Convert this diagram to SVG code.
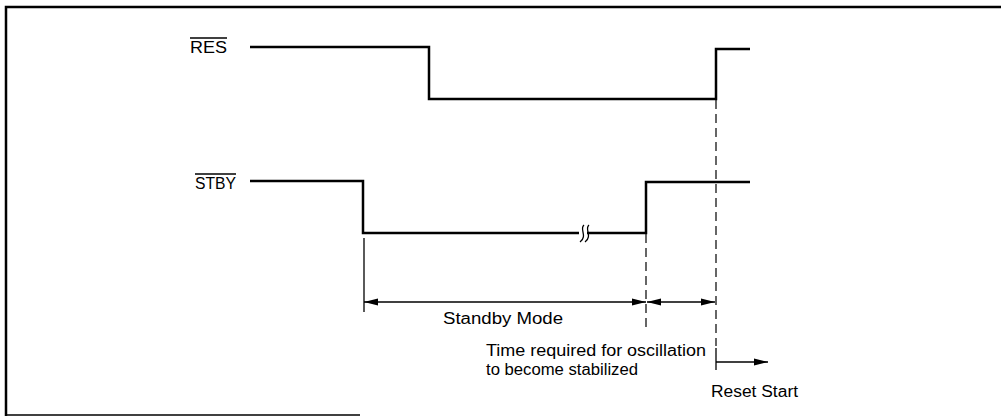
<svg xmlns="http://www.w3.org/2000/svg" width="1001" height="417" viewBox="0 0 1001 417">
<style>
.sig{fill:none;stroke:#000;stroke-width:2.5}
.thin{fill:none;stroke:#000;stroke-width:1.3}
.dash{fill:none;stroke:#000;stroke-width:1.2;stroke-dasharray:9 5}
.lbl{font-family:"Liberation Sans",Arial,sans-serif;font-size:16px;fill:#000}
</style>
<defs>
<marker id="ah" viewBox="0 0 14 8" refX="14" refY="4" markerWidth="14" markerHeight="8" markerUnits="userSpaceOnUse" orient="auto-start-reverse">
<path d="M0,0.5 L14,4 L0,7.5 Z" fill="#000"/>
</marker>
</defs>
<rect width="1001" height="417" fill="#fff"/>
<g id="frame">
<path d="M6,416 L6,7 L1001,7" class="sig" stroke-width="2"/>
<path d="M5,415 L360,415" class="thin" stroke-width="1.5"/>
</g>
<g id="res">
<text x="190" y="53" class="lbl" textLength="37" lengthAdjust="spacingAndGlyphs">RES</text>
<line x1="190" y1="38" x2="227" y2="38" class="thin" stroke-width="1"/>
<path d="M250,47 L429,47 L429,99 L716,99 L716,49 L750,49" class="sig"/>
</g>
<g id="stby">
<text x="195" y="189" class="lbl" textLength="41" lengthAdjust="spacingAndGlyphs">STBY</text>
<line x1="195" y1="174" x2="236" y2="174" class="thin" stroke-width="1"/>
<path d="M250,181 L363,181 L363,233 L579,233 M587,233 L646,233 L646,182 L750,182" class="sig"/>
<path d="M584,225 C579,229 588,236 580,242 M589,225 C584,229 593,236 585,242" class="thin" stroke-width="1.8"/>
</g>
<g id="connectors">
<line x1="364" y1="238" x2="364" y2="312" class="thin"/>
<line x1="646" y1="234" x2="646" y2="330" class="dash"/>
<line x1="716" y1="100" x2="716" y2="346" class="dash"/>
<line x1="716" y1="348" x2="716" y2="370" class="thin" stroke-width="1.6"/>
<line x1="364" y1="302" x2="646" y2="302" class="thin" marker-start="url(#ah)" marker-end="url(#ah)"/>
<line x1="647" y1="302" x2="715" y2="302" class="thin" marker-start="url(#ah)" marker-end="url(#ah)"/>
<line x1="716" y1="362" x2="768" y2="362" class="thin" marker-end="url(#ah)"/>
</g>
<g id="labels">
<text x="443" y="324" class="lbl" textLength="120" lengthAdjust="spacingAndGlyphs">Standby Mode</text>
<text x="486" y="356" class="lbl" textLength="220" lengthAdjust="spacingAndGlyphs">Time required for oscillation</text>
<text x="486" y="375" class="lbl" textLength="152" lengthAdjust="spacingAndGlyphs">to become stabilized</text>
<text x="711" y="397" class="lbl" textLength="87" lengthAdjust="spacingAndGlyphs">Reset Start</text>
</g>
</svg>
